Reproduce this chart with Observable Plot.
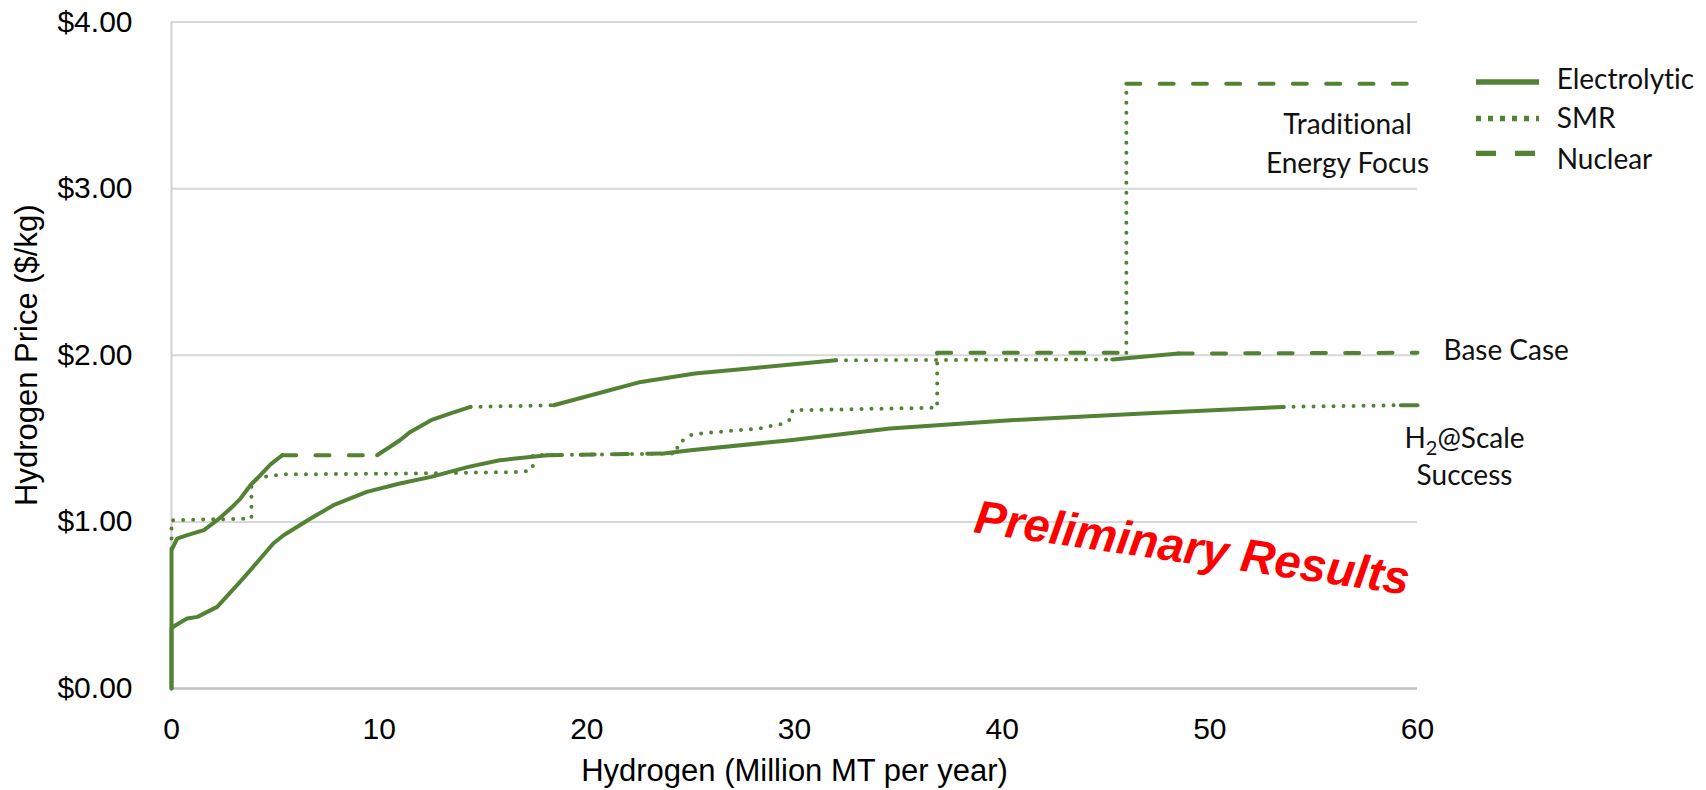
<!DOCTYPE html>
<html><head><meta charset="utf-8">
<script src="https://cdn.jsdelivr.net/npm/d3@7"></script>
<script src="https://cdn.jsdelivr.net/npm/@observablehq/plot@0.6"></script>
<style>
body{margin:0;background:#fff;}
#wrap{position:relative;width:1706px;height:790px;}
#legend{position:absolute;left:1470px;top:60px;}
text, tspan{font-variant-ligatures:none;}
</style></head><body><div id="wrap"></div>
<script>
// ---- data ----
const techCodes = ["E", "S", "N"];
const techNames = ["Electrolytic", "SMR", "Nuclear"];
const scenarioNames = ["Traditional\nEnergy Focus", "Base Case", "H2@Scale\nSuccess"];

// Traditional Energy Focus  (tech = technology of the segment that starts at each point)
const tradQ = [0, 0, 3.85, 3.85, 4.13, 4.68, 5.4, 11.5, 17.0, 17.4, 17.4, 24.3, 24.4, 25.0, 25.45, 27.3, 28.3, 29.0, 29.5, 29.85, 29.9, 36.87, 36.87, 45.98, 45.98, 60];
const tradP = [0.84, 1.01, 1.02, 1.23, 1.26, 1.275, 1.285, 1.29, 1.30, 1.32, 1.40, 1.41, 1.47, 1.52, 1.53, 1.55, 1.56, 1.58, 1.59, 1.62, 1.67, 1.685, 2.015, 2.015, 3.63, 3.63];
const tradTech = ["S","S","S","S","S","S","S","S","S","S","S","S","S","S","S","S","S","S","S","S","S","S","N","S","N",""];

// Base Case
const baseQ = [0, 0, 0.27, 0.76, 1.56, 2.2, 2.84, 3.32, 3.8, 4.28, 4.77, 5.33, 9.9, 11.0, 11.5, 12.5, 13.4, 14.4, 18.4, 20.2, 22.6, 25.2, 28.2, 32.0, 45.3, 48.5, 60];
const baseP = [0, 0.83, 0.90, 0.92, 0.95, 1.01, 1.08, 1.14, 1.22, 1.28, 1.345, 1.40, 1.40, 1.49, 1.54, 1.61, 1.65, 1.69, 1.70, 1.76, 1.84, 1.89, 1.925, 1.97, 1.975, 2.01, 2.015];
const baseTech = ["E","E","E","E","E","E","E","E","E","E","E","N","E","E","E","E","E","S","E","E","E","E","E","S","E","N",""];

// H2@Scale Success
const scaleQ = [0, 0, 0.2, 0.75, 1.25, 2.2, 3.3, 3.8, 4.9, 5.4, 6.7, 7.8, 9.4, 11.0, 12.5, 14.3, 15.8, 18.1, 23.7, 25.0, 29.8, 34.6, 40.4, 46.8, 53.55, 59.2, 60];
const scaleP = [0, 0.36, 0.38, 0.42, 0.43, 0.49, 0.64, 0.71, 0.87, 0.92, 1.02, 1.10, 1.18, 1.23, 1.27, 1.33, 1.37, 1.40, 1.41, 1.43, 1.49, 1.56, 1.61, 1.65, 1.69, 1.70, 1.70];
const scaleTech = ["E","E","E","E","E","E","E","E","E","E","E","E","E","E","E","E","E","N","E","E","E","E","E","E","S","E",""];

const qtyTicks = [0, 10, 20, 30, 40, 50, 60];
const priceTicks = [0, 1, 2, 3, 4];
const xTitle = "Hydrogen (Million MT per year)";
const yTitle = "Hydrogen Price ($/kg)";
const watermark = "Preliminary Results";

// ---- build run table ----
function toRuns(name, qs, ps, ts) {
  const out = []; let id = 0, cur = null;
  for (let i = 0; i < qs.length - 1; i++) {
    if (!cur || ts[i] !== cur.tech) {
      cur = {tech: ts[i], id: name + "-" + (id++), pts: [{q: qs[i], p: ps[i]}]};
      out.push(cur);
    }
    cur.pts.push({q: qs[i + 1], p: ps[i + 1]});
  }
  return out.flatMap(r => r.pts.map(pt => ({...pt, tech: r.tech, run: r.id, scenario: name})));
}
const rows = [
  ...toRuns(scenarioNames[0], tradQ, tradP, tradTech),
  ...toRuns(scenarioNames[1], baseQ, baseP, baseTech),
  ...toRuns(scenarioNames[2], scaleQ, scaleP, scaleTech)
];

const green = "#548235";
const techStyle = {
  E: {strokeDasharray: null, strokeLinecap: "round"},
  S: {strokeDasharray: "0,10", strokeLinecap: "round"},
  N: {strokeDasharray: "14,19.3", strokeLinecap: "round"}
};
const lineMarks = techCodes.map(t => Plot.line(rows.filter(r => r.tech === t), {
  x: "q", y: "p", z: "run", stroke: green, strokeWidth: 4,
  strokeLinejoin: "round", ...(techStyle[t].strokeDasharray ? {strokeDasharray: techStyle[t].strokeDasharray} : {}),
  strokeLinecap: techStyle[t].strokeLinecap
}));

const endLabel = (name, qs, ps, opts) => Plot.text([{t: name, q: qs[qs.length - 1], p: ps[ps.length - 1]}], {
  x: "q", y: "p", text: "t", fontFamily: "Lato", fontSize: 28, fill: "#111", ...opts
});

const chart = Plot.plot({
  width: 1706, height: 790,
  marginLeft: 171, marginRight: 289, marginTop: 21.5, marginBottom: 102,
  style: {fontFamily: "'Liberation Sans', Arial, sans-serif", fontSize: "30px", color: "#000", background: "#fff", overflow: "visible"},
  x: {domain: [0, 60], ticks: qtyTicks, tickSize: 0, tickPadding: 29, label: null},
  y: {domain: [0, 4], ticks: priceTicks, tickSize: 0, tickPadding: 39, label: null, tickFormat: d => "$" + d.toFixed(2)},
  marks: [
    Plot.ruleY(priceTicks.filter(d => d > 0), {stroke: "#d9d9d9", strokeWidth: 2}),
    Plot.ruleX([0], {stroke: "#d0d0d0", strokeWidth: 2}),
    Plot.ruleY([0], {stroke: "#bfbfbf", strokeWidth: 2.5}),
    ...lineMarks,
    endLabel(scenarioNames[0], tradQ, tradP, {dx: -70, dy: 23.5, textAnchor: "middle", lineAnchor: "top", lineHeight: 1.37}),
    endLabel(scenarioNames[1], baseQ, baseP, {dx: 26, dy: -2, textAnchor: "start"}),
    endLabel(scenarioNames[2], scaleQ, scaleP, {dx: 47, dy: 17, textAnchor: "middle", lineAnchor: "top", lineHeight: 1.31}),
    Plot.text([watermark], {frameAnchor: "bottom-right", dx: -227.6, dy: -125, rotate: 8.2, fill: "#ff0000",
      fontSize: 47, fontWeight: "bold", fontStyle: "italic", fontFamily: "'Liberation Sans', Arial, sans-serif", textAnchor: "middle"}),
    Plot.text([yTitle], {frameAnchor: "left", dx: -144, rotate: -90, fontSize: 31, textAnchor: "middle", fill: "#000"}),
    Plot.text([xTitle], {frameAnchor: "bottom", dy: 70, lineAnchor: "top", fontSize: 31, fill: "#000"})
  ]
});
document.getElementById("wrap").appendChild(chart);

// subscript 2 in H2@Scale
d3.select(chart).selectAll("tspan, text").each(function() {
  if (this.childElementCount === 0 && this.textContent === "H2@Scale") {
    const el = d3.select(this);
    el.text("");
    el.append("tspan").text("H");
    el.append("tspan").attr("font-size", 20).attr("baseline-shift", -6.5).text("2");
    el.append("tspan").text("@Scale");
  }
});

// legend
const lg = d3.select("#wrap").append("svg").attr("id", "legend").attr("width", 236).attr("height", 130)
  .style("font-family", "Lato").style("font-size", "28px");
const legendDash = {E: null, S: "5,7", N: "20,19"};
const lineYs = [22, 58.5, 93.3], baseYs = [29.3, 68.3, 109.3];
techCodes.forEach((t, i) => {
  lg.append("line").attr("x1", 6).attr("x2", 69).attr("y1", lineYs[i]).attr("y2", lineYs[i])
    .attr("stroke", green).attr("stroke-width", 5.3).attr("stroke-dasharray", legendDash[t]);
  lg.append("text").attr("x", 86.7).attr("y", baseYs[i]).attr("fill", "#111").text(techNames[i]);
});
</script></body></html>
